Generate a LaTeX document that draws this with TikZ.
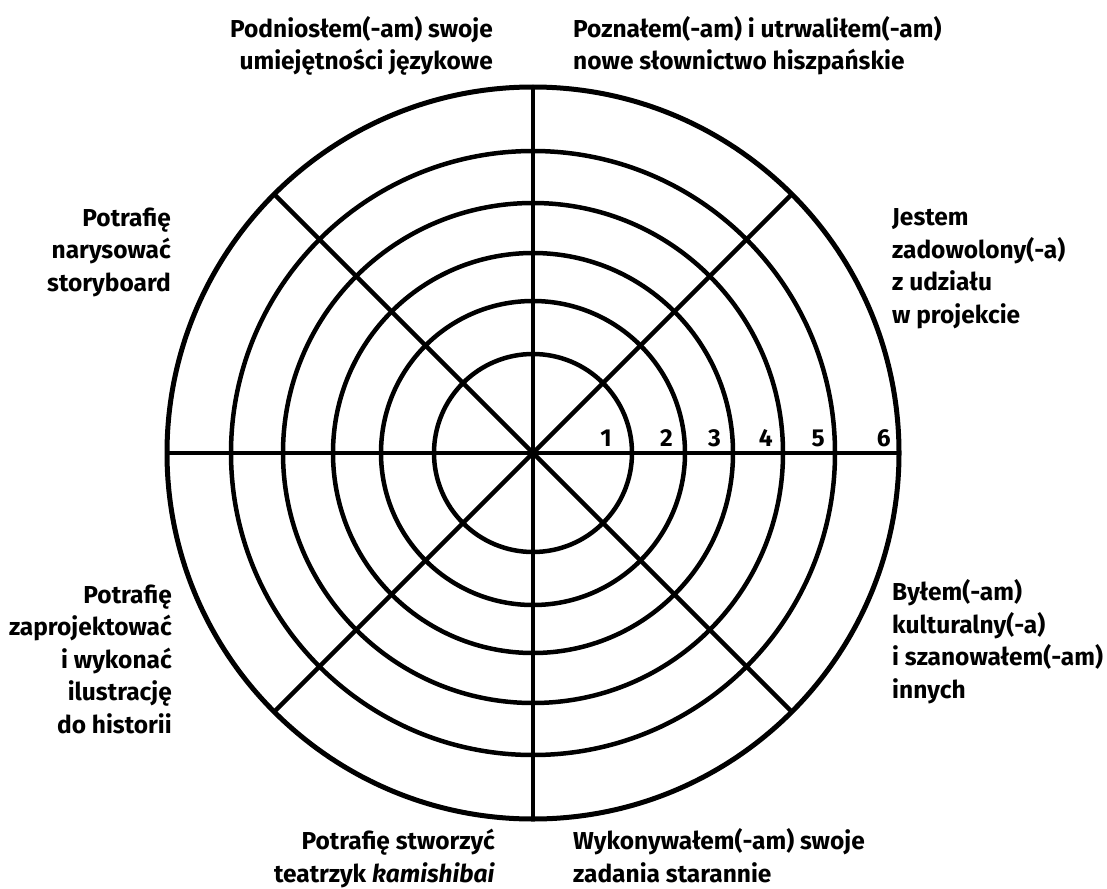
\documentclass[tikz,border=0pt]{standalone}
\usepackage{fontspec}
\setmainfont{Fira Sans}
\begin{document}
\begin{tikzpicture}[x=1pt,y=-1pt,
  ring/.style={line width=4.5pt},
  spoke/.style={line width=4.5pt},
  lbl/.style={inner sep=0pt,font=\fontsize{24.5}{32.5}\selectfont\bfseries},
  num/.style={inner sep=0pt,anchor=base east,font=\fontsize{24.5}{28}\selectfont\bfseries}]
\useasboundingbox (0,0) rectangle (1107,888);
\coordinate (c) at (533,453);
\foreach \r in {99,152,200,250,302}{\draw[ring] (c) circle[radius=\r];}
\draw[ring,line width=5pt] (c) circle[radius=366];
\foreach \a in {0,45,...,315}{\draw[spoke] (c) -- ++(\a:366);}
\node[num] (n1) at (612,446) {1};
\node[num] (n2) at (673,446) {2};
\node[num] (n3) at (721,446) {3};
\node[num] (n4) at (773,446) {4};
\node[num] (n5) at (825,446) {5};
\node[num] (n6) at (891,446) {6};
\node[lbl,anchor=base east,align=right] (tl) at (493,70) {Podniosłem(-am) swoje\\umiejętności językowe};
\node[lbl,anchor=base west,align=left] (tr) at (573,70) {Poznałem(-am) i utrwaliłem(-am)\\nowe słownictwo hiszpańskie};
\node[lbl,anchor=base west,align=left] (ru) at (892,323) {Jestem\\zadowolony(-a)\\z udziału\\w projekcie};
\node[lbl,anchor=base west,align=left] (rl) at (892,698) {Byłem(-am)\\kulturalny(-a)\\i szanowałem(-am)\\innych};
\node[lbl,anchor=base east,align=right] (lu) at (171,291) {Potrafię\\narysować\\storyboard};
\node[lbl,anchor=base east,align=right] (ll) at (172,733) {Potrafię\\zaprojektować\\i wykonać\\ilustrację\\do historii};
\node[lbl,anchor=base east,align=right] (bl) at (495,882) {Potrafię stworzyć\\teatrzyk \textit{kamishibai}};
\node[lbl,anchor=base west,align=left] (br) at (573,882) {Wykonywałem(-am) swoje\\zadania starannie};
\end{tikzpicture}
\end{document}
